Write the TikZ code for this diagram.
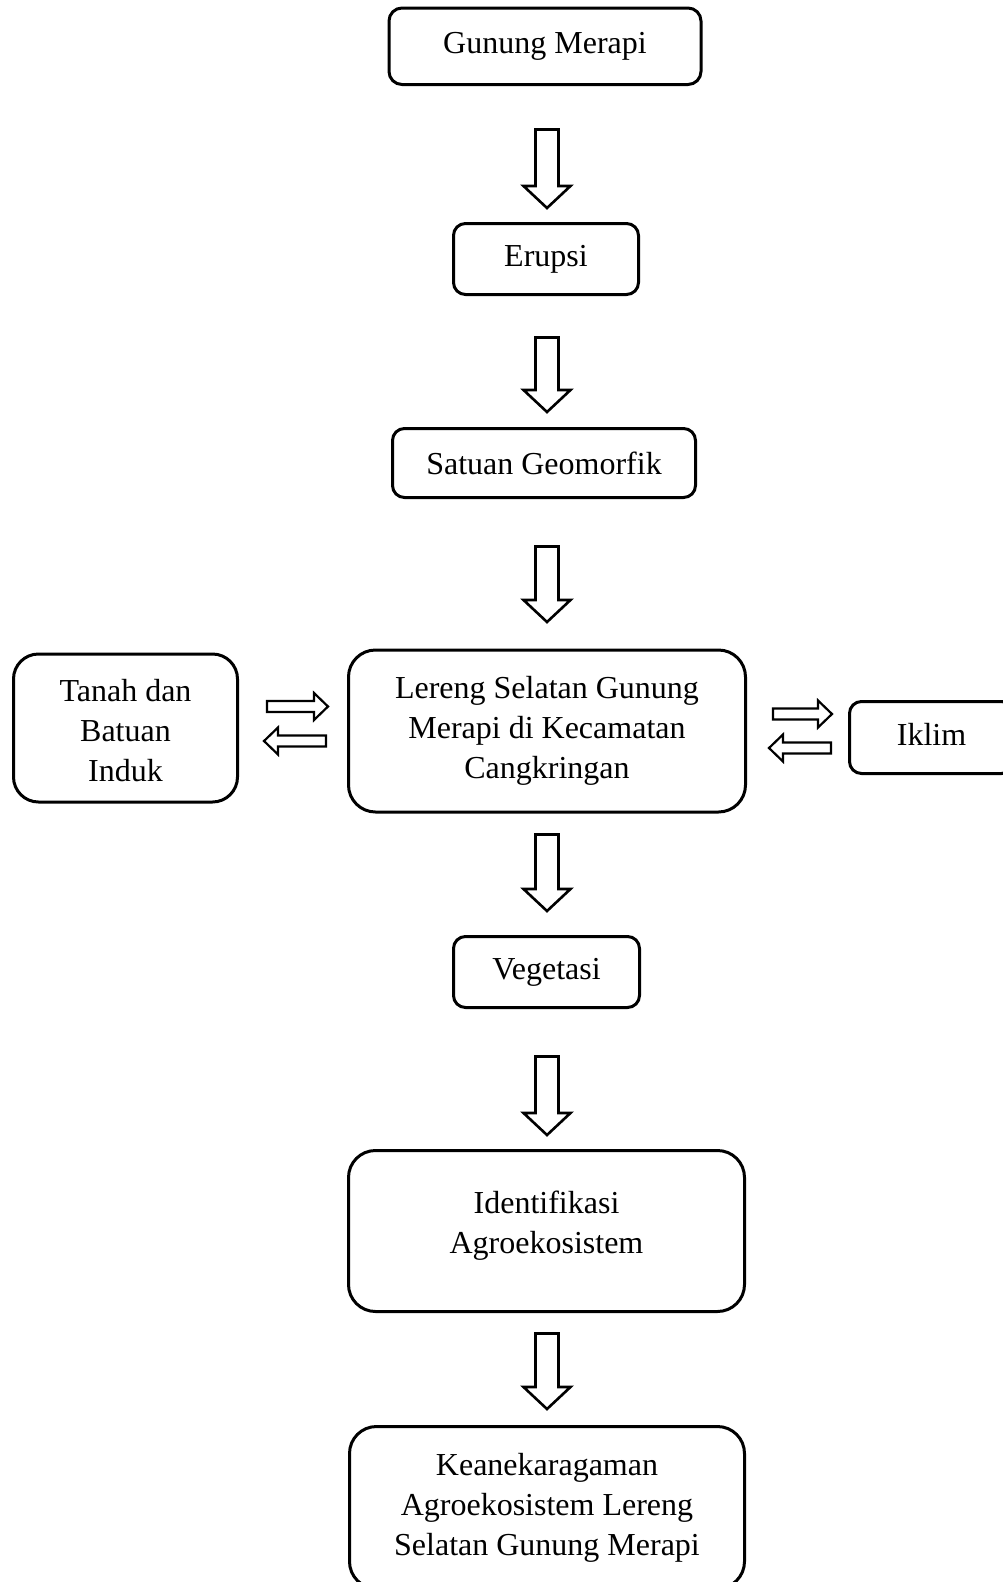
\documentclass[tikz,border=0pt]{standalone}
\usepackage{fontspec}
\setmainfont{Liberation Serif}
\begin{document}
\begin{tikzpicture}[x=1pt,y=-1pt,
  box/.style={draw=black,line width=3pt,inner sep=0pt,fill=white},
  txt/.style={inner sep=0pt,align=center,font=\fontsize{32}{40}\selectfont},
  arrowline/.style={draw=black,line width=2.6pt,fill=white,line join=miter},
  sidearrow/.style={draw=black,line width=2.2pt,fill=white,line join=miter}]
\newcommand\blockdown[3]{%
  \draw[arrowline] (#1-11.5,#2) -- (#1+11.5,#2) -- (#1+11.5,#3-22) -- (#1+23.5,#3-22)
    -- (#1,#3) -- (#1-23.5,#3-22) -- (#1-11.5,#3-22) -- cycle;}
\newcommand\blockright[3]{% start x, tip x, center y
  \draw[sidearrow] (#1,#3-5.5) -- (#2-14,#3-5.5) -- (#2-14,#3-13.5) -- (#2,#3)
    -- (#2-14,#3+13.5) -- (#2-14,#3+5.5) -- (#1,#3+5.5) -- cycle;}
\newcommand\blockleft[3]{% end x, tip x, center y
  \draw[sidearrow] (#1,#3-5.5) -- (#2+14,#3-5.5) -- (#2+14,#3-13.5) -- (#2,#3)
    -- (#2+14,#3+13.5) -- (#2+14,#3+5.5) -- (#1,#3+5.5) -- cycle;}
\clip (0,0) rectangle (1003,1582);
\fill[white] (0,0) rectangle (1003,1582);
% boxes
\node[box,rounded corners=13pt,minimum width=312pt,minimum height=76.5pt] (top) at (545,46.25) {};
\node[box,rounded corners=12pt,minimum width=185pt,minimum height=71pt] (erupsi) at (546,259) {};
\node[box,rounded corners=12pt,minimum width=303pt,minimum height=69pt] (satuan) at (544,463) {};
\node[box,rounded corners=25pt,minimum width=224pt,minimum height=148pt] (tanah) at (125.5,728) {};
\node[box,rounded corners=27pt,minimum width=397pt,minimum height=162pt] (lereng) at (547,731) {};
\node[box,rounded corners=12pt,minimum width=164pt,minimum height=72pt] (iklim) at (931.5,737.5) {};
\node[box,rounded corners=12pt,minimum width=186pt,minimum height=71pt] (veg) at (546.5,972) {};
\node[box,rounded corners=27pt,minimum width=396pt,minimum height=161pt] (ident) at (546.5,1231) {};
\node[box,rounded corners=27pt,minimum width=395pt,minimum height=162pt] (kean) at (547,1507.5) {};
% texts
\node[txt] (topT) at (top.center) {Gunung Merapi};
\node[txt] (erupsiT) at (erupsi.center) {Erupsi};
\node[txt] (satuanT) at (satuan.center) {Satuan Geomorfik};
\node[txt] (tanahT) at ([yshift=-3pt]tanah.center) {Tanah dan\\Batuan\\Induk};
\node[txt] (lerengT) at (lereng.center) {Lereng Selatan Gunung\\Merapi di Kecamatan\\Cangkringan};
\node[txt] (iklimT) at ([yshift=3.5pt]iklim.center) {Iklim};
\node[txt] (vegT) at (veg.center) {Vegetasi};
\node[txt] (identT) at ([yshift=5.5pt]ident.center) {Identifikasi\\Agroekosistem};
\node[txt] (keanT) at (kean.center) {Keanekaragaman\\Agroekosistem Lereng\\Selatan Gunung Merapi};
% block arrows
\blockdown{547}{129.5}{208}
\blockdown{547}{337.5}{412}
\blockdown{547}{546.5}{622}
\blockdown{547}{834.5}{911}
\blockdown{547}{1056.5}{1135}
\blockdown{547}{1333.5}{1409}
\blockright{267}{328}{706.5}
\blockleft{326}{264}{741}
\blockright{773}{832}{714}
\blockleft{831}{769}{748}
\end{tikzpicture}
\end{document}
